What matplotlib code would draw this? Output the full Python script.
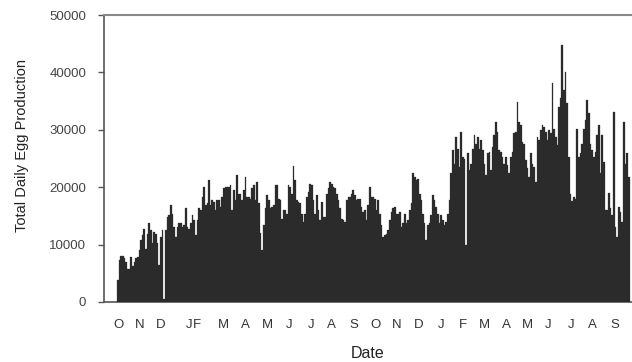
import matplotlib
matplotlib.use("Agg")
import matplotlib.pyplot as plt

# Total daily egg production, read off the chart from October (year 1)
# through September (year 3); one value per ~2.4 days
egg_counts = [
    # Oct - Mar, year 1
    3900, 7400, 8100, 8100, 7600, 7000, 5800, 5800, 7800, 6200,
    7000, 7600, 7900, 9000, 10800, 11600, 12800, 9300, 11900, 13700,
    12500, 10200, 12200, 11900, 10200, 6400, 11300, 12500, 600, 12500,
    14800, 15100, 16900, 15400, 13100, 11300, 13100, 13700, 13700, 13100,
    13400, 16300, 13100, 12800, 13700, 15100, 14200, 11600, 14200, 16300,
    16000, 18300, 20100, 16900, 17200, 21200, 16900, 17700, 17400, 16000,
    17700, 17700, 16600, 18300, 19800, 20100, 20100, 20100,
    # Mar - Oct, year 2
    20400, 16000, 19500, 17700, 22100, 18900, 18900, 17700, 19500, 21800,
    18300, 18300, 18000, 19800, 20400, 17700, 20900, 17200, 12000, 9000,
    13400, 16300, 18600, 17700, 16300, 16600, 16900, 20400, 20400, 18000,
    17700, 14500, 16000, 16000, 15400, 20400, 20100, 18900, 23700, 21200,
    17700, 17400, 17200, 15400, 14000, 15400, 18300, 19200, 20600, 20400,
    17700, 15400, 18600, 16000, 14200, 17400, 14800, 14800, 18900, 19800,
    20900, 20600, 20100, 19800, 18900, 17700, 16300, 14500, 14200, 14000,
    17700, 18300, 18300, 18900, 19500, 18600, 17700, 18000,
    # Oct - Apr, year 2/3
    18000, 16600, 15700, 16000, 14200, 16900, 20100, 18300, 18300, 18000,
    16000, 17700, 15400, 13400, 11300, 11600, 11900, 12500, 14200, 15700,
    16300, 16600, 15400, 15400, 15700, 13100, 13700, 15400, 13700, 14200,
    16000, 17200, 22400, 21800, 21200, 21500, 18900, 17700, 15400, 13700,
    10800, 13400, 13700, 15100, 18600, 17700, 16600, 15400, 13700, 15100,
    14200, 13400, 14000, 15400, 17700, 22400, 26500, 24100, 28800, 26700,
    23600, 29700, 25300, 25000, 9900, 25900, 23000, 24100, 26700, 29100,
    27600, 28800, 26700, 28200, 26500, 24100, 22100, 25900,
    # Apr - Sep, year 3
    26200, 23000, 27000, 29100, 31400, 29700, 26500, 26200, 25300, 24100,
    25300, 23800, 22400, 25300, 26200, 29400, 29700, 34900, 31400, 30800,
    27900, 27600, 24700, 23300, 21800, 25900, 24100, 23600, 20900, 28800,
    28200, 29900, 30800, 30500, 29700, 28200, 29900, 29400, 38100, 30200,
    28800, 27300, 34000, 35500, 44800, 36900, 40100, 34600, 25300, 18900,
    17600, 18300, 18000, 30200, 25300, 25900, 27600, 30200, 31700, 35200,
    32900, 27600, 26500, 25300, 26200, 29100, 30800, 22400, 29100, 24400,
    16000, 16000, 19000, 16300, 15100, 33100, 13100, 11300, 16600, 15700,
    14000, 31400, 24100, 25900, 21800,
]

month_labels = ["O", "N", "D", "J", "F", "M", "A", "M", "J", "J", "A", "S",
                "O", "N", "D", "J", "F", "M", "A", "M", "J", "J", "A", "S"]
# where each month label sits, in units of bars
month_pos = [0.3, 13.4, 25.8, 42.9, 47.5, 64.0, 77.0, 90.3, 103.1, 116.8,
             129.0, 142.3, 155.5, 168.2, 181.5, 195.1, 208.0, 221.2, 234.3,
             247.1, 259.7, 273.4, 286.1, 299.5]

plt.rcParams['font.family'] = ['Liberation Sans', 'DejaVu Sans']

fig = plt.figure(figsize=(6.32, 3.62), dpi=100)
ax = fig.add_axes([104 / 632, 60 / 362, 527.5 / 632, 287 / 362])

idx = list(range(len(egg_counts)))
ax.bar(idx, egg_counts, width=1.0, color='#2b2b2b', edgecolor='#2b2b2b',
       linewidth=0.2, zorder=3)

ax.set_xlim(-8.3, 309.7)
ax.set_ylim(0, 50000)
ax.set_yticks(range(0, 50001, 10000))
ax.set_xticks(month_pos)
ax.set_xticklabels(month_labels)

ax.tick_params(axis='y', length=4.3, width=1, color='#555555', pad=8.6,
               labelsize=9.5, labelcolor='#444444')
ax.tick_params(axis='x', length=0, pad=12, labelsize=9.5, labelcolor='#333333')

for side in ['left', 'bottom']:
    ax.spines[side].set_color('#555555')
    ax.spines[side].set_linewidth(1.2)
ax.spines['top'].set_color('#888888')
ax.spines['top'].set_linewidth(1.5)
ax.spines['right'].set_visible(False)

ax.set_ylabel("Total Daily Egg Production", fontsize=10.5, color='#222222',
              va='center', ha='center')
ax.yaxis.set_label_coords(-0.155, 0.547)
ax.set_xlabel("Date", fontsize=11.5, color='#222222', va='center')
ax.xaxis.set_label_coords(0.5, -0.178)

fig.savefig("out.png", dpi=100)
